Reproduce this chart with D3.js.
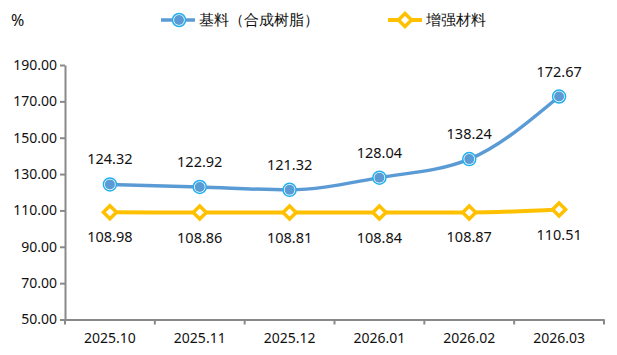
<!DOCTYPE html>
<html><head><meta charset="utf-8">
<script src="https://cdn.jsdelivr.net/npm/d3@7"></script>
<style>body{margin:0;background:#fff}svg{display:block}text{font-family:"Noto Sans","DejaVu Sans",sans-serif}</style>
</head><body><svg id="c" width="617" height="355"></svg>
<script>
const categories = ["2025.10","2025.11","2025.12","2026.01","2026.02","2026.03"];
const resinValues = [124.32,122.92,121.32,128.04,138.24,172.67];
const reinforceValues = [108.98,108.86,108.81,108.84,108.87,110.51];
const yTicks = [50,70,90,110,130,150,170,190];
const seriesNames = ["基料（合成树脂）","增强材料"];

const svg = d3.select("#c");
const x = d3.scaleBand().domain(categories).range([65,604]);
const y = d3.scaleLinear().domain([50,190]).range([319.5,65]);
const cx = d => x(d) + x.bandwidth()/2;

// axes
const yAxis = svg.append("g").attr("transform","translate(65,0)")
  .call(d3.axisLeft(y).tickValues(yTicks).tickFormat(d3.format(".2f")).tickSize(5).tickSizeOuter(0));
const xAxis = svg.append("g").attr("transform","translate(0,319.5)")
  .call(d3.axisBottom(x).tickSize(0));
[yAxis,xAxis].forEach(g=>{
  g.select(".domain").attr("stroke","#898989").attr("stroke-width",2);
  g.selectAll(".tick line").attr("stroke","#898989").attr("stroke-width",2);
  g.selectAll("text").attr("fill","#111").style("font-size","14px").style("font-family",'"Noto Sans","DejaVu Sans",sans-serif');
});
yAxis.selectAll(".tick text").attr("x",-8);
xAxis.selectAll(".tick text").attr("dy","1.45em");
// boundary ticks on x
const bounds = categories.map(c=>x(c)+x.bandwidth()).concat([x(categories[0])]);
xAxis.selectAll(".bt").data(bounds).enter().append("line")
  .attr("x1",d=>d).attr("x2",d=>d).attr("y1",0).attr("y2",5)
  .attr("stroke","#898989").attr("stroke-width",2);

svg.append("text").attr("x",11).attr("y",26).text("%").style("font-size","16px").attr("fill","#111");

const line = d3.line().x((d,i)=>cx(categories[i])).y(d=>y(d)).curve(d3.curveMonotoneX);

// yellow series
svg.append("path").attr("d",line(reinforceValues)).attr("fill","none").attr("stroke","#FFC000").attr("stroke-width",4);
// blue series
svg.append("path").attr("d",line(resinValues)).attr("fill","none").attr("stroke","#5B9BD5").attr("stroke-width",3.5);

function circleMarker(g,px,py){
  g.append("circle").attr("cx",px).attr("cy",py).attr("r",6.5).attr("fill","#fff").attr("stroke","#1EB0F0").attr("stroke-width",1.5);
  g.append("circle").attr("cx",px).attr("cy",py).attr("r",5).attr("fill","#5B9BD5");
}
function diamondMarker(g,px,py){
  const s=6.5;
  g.append("path").attr("d",`M${px},${py-s}L${px+s},${py}L${px},${py+s}L${px-s},${py}Z`)
    .attr("fill","#fff").attr("stroke","#FFC000").attr("stroke-width",3.5).attr("stroke-linejoin","miter");
}
const mk = svg.append("g");
reinforceValues.forEach((v,i)=>diamondMarker(mk,cx(categories[i]),y(v)));
resinValues.forEach((v,i)=>circleMarker(mk,cx(categories[i]),y(v)));

const lab = svg.append("g").style("font-size","14.5px").attr("fill","#111").attr("text-anchor","middle");
resinValues.forEach((v,i)=>lab.append("text").attr("x",cx(categories[i])).attr("y",y(v)-20).text(v.toFixed(2)));
reinforceValues.forEach((v,i)=>lab.append("text").attr("x",cx(categories[i])).attr("y",y(v)+30).text(v.toFixed(2)));

// legend
const lg = svg.append("g");
lg.append("line").attr("x1",161).attr("x2",195).attr("y1",20).attr("y2",20).attr("stroke","#5B9BD5").attr("stroke-width",3.5);
circleMarker(lg,179,20);
lg.append("text").attr("x",199).attr("y",25).text(seriesNames[0]).style("font-size","14.5px").attr("fill","#111");
lg.append("line").attr("x1",388).attr("x2",422).attr("y1",20).attr("y2",20).attr("stroke","#FFC000").attr("stroke-width",4);
diamondMarker(lg,405,20);
lg.append("text").attr("x",426).attr("y",25).text(seriesNames[1]).style("font-size","14.5px").attr("fill","#111");
</script></body></html>
